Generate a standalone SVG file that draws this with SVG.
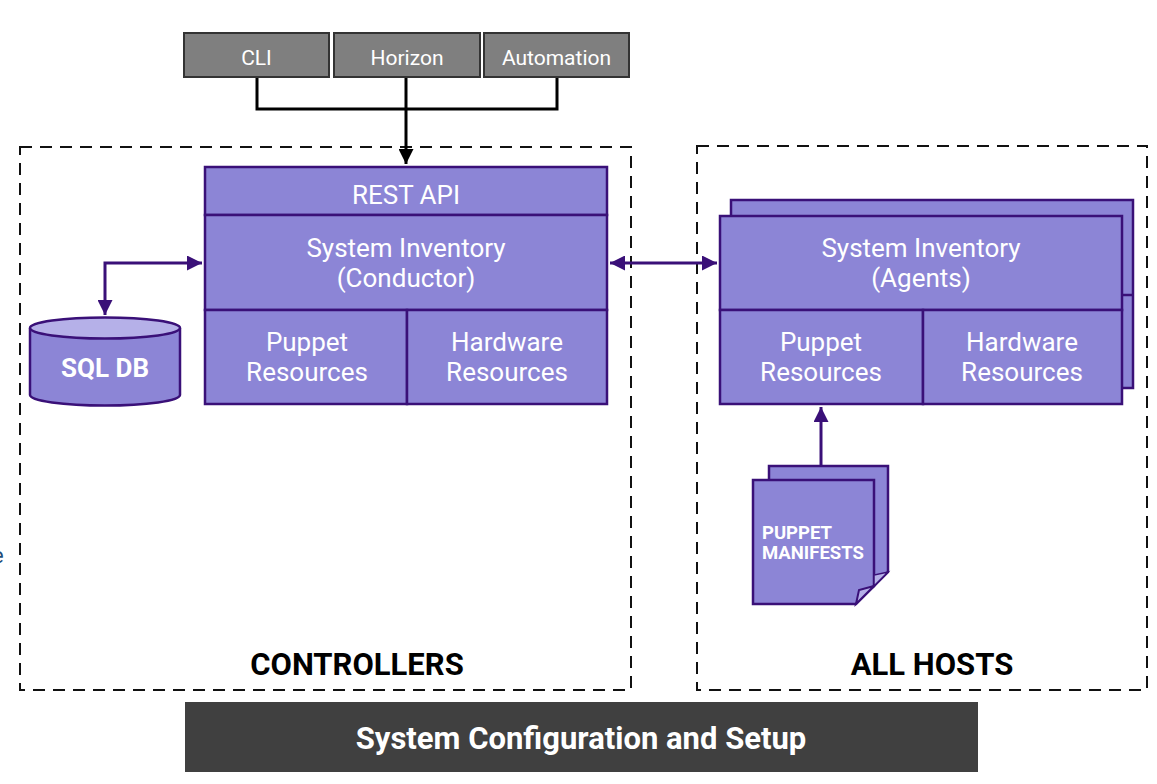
<svg xmlns="http://www.w3.org/2000/svg" width="1157" height="784" viewBox="0 0 1157 784">
<defs>
<style>
.src{fill:#7f7f7f;stroke:#333;stroke-width:2}
.srct{fill:#fff;font-family:Roboto,"Liberation Sans",sans-serif;font-size:21px;text-anchor:middle}
.blk{fill:#8c85d6;stroke:#3a1078;stroke-width:2.5}
.t{fill:#fff;font-family:Roboto,"Liberation Sans",sans-serif;font-size:26px;text-anchor:middle}
.dash{fill:none;stroke:#111;stroke-width:2;stroke-dasharray:12 8}
.lbl{fill:#000;font-family:Roboto,"Liberation Sans",sans-serif;font-size:31px;font-weight:bold;text-anchor:middle}
.blkline{fill:none;stroke:#000;stroke-width:3}
.pline{fill:none;stroke:#3a1078;stroke-width:3}
</style>
<marker id="ab" viewBox="0 0 10 10" refX="10" refY="5" markerWidth="5" markerHeight="5" orient="auto-start-reverse" markerUnits="strokeWidth"><path d="M0,0 L10,5 L0,10 z" fill="#000"/></marker>
<marker id="ap" viewBox="0 0 10 10" refX="10" refY="5" markerWidth="5" markerHeight="5" orient="auto-start-reverse" markerUnits="strokeWidth"><path d="M0,0 L10,5 L0,10 z" fill="#3a1078"/></marker>
</defs>
<rect width="1157" height="784" fill="#fff"/>
<text x="-8" y="563" font-family="Roboto,'Liberation Sans',sans-serif" font-size="22" fill="#1f4e79">e</text>

<g id="controllers">
<rect class="dash" x="20" y="147" width="611" height="543"/>
<text class="lbl" x="357" y="675">CONTROLLERS</text>
</g>
<g id="allhosts">
<rect class="dash" x="697" y="146" width="450" height="544"/>
<text class="lbl" x="932" y="675">ALL HOSTS</text>
</g>

<g id="connectors">
<path class="blkline" d="M257,77 V109 H557 V77"/>
<path class="blkline" d="M406,77 V164" marker-end="url(#ab)"/>
<path class="pline" d="M105,315 V263 H202" marker-start="url(#ap)" marker-end="url(#ap)"/>
<path class="pline" d="M610,263 H717" marker-start="url(#ap)" marker-end="url(#ap)"/>
<path class="pline" d="M821,466 V407" marker-end="url(#ap)"/>
</g>

<g id="cli"><rect class="src" x="184" y="33" width="145" height="44"/><text class="srct" x="256.5" y="65">CLI</text></g>
<g id="horizon"><rect class="src" x="334" y="33" width="146" height="44"/><text class="srct" x="407" y="65">Horizon</text></g>
<g id="automation"><rect class="src" x="484" y="33" width="145" height="44"/><text class="srct" x="556.5" y="65">Automation</text></g>

<g id="conductor">
<rect class="blk" x="205" y="167" width="402" height="48"/>
<text class="t" x="406" y="204">REST API</text>
<rect class="blk" x="205" y="215" width="402" height="95"/>
<text class="t" x="406" y="257">System Inventory</text>
<text class="t" x="406" y="287">(Conductor)</text>
<rect class="blk" x="205" y="310" width="202" height="94"/>
<rect class="blk" x="407" y="310" width="200" height="94"/>
<text class="t" x="307" y="351">Puppet</text>
<text class="t" x="307" y="381">Resources</text>
<text class="t" x="507" y="351">Hardware</text>
<text class="t" x="507" y="381">Resources</text>
</g>

<g id="sqldb">
<path d="M30,328 V395 A75,10.5 0 0 0 180,395 V328" fill="#8c85d6" stroke="#3a1078" stroke-width="2.5"/>
<ellipse cx="105" cy="328" rx="75" ry="10.5" fill="#b5b0e8" stroke="#3a1078" stroke-width="2.5"/>
<text class="t" x="105" y="377" font-weight="bold">SQL DB</text>
</g>

<g id="agents">
<rect class="blk" x="731" y="200" width="402" height="188"/>
<line x1="1122" y1="295" x2="1133" y2="295" stroke="#3a1078" stroke-width="2.5"/>
<rect class="blk" x="720" y="216" width="402" height="94"/>
<text class="t" x="921" y="257">System Inventory</text>
<text class="t" x="921" y="287">(Agents)</text>
<rect class="blk" x="720" y="310" width="203" height="94"/>
<rect class="blk" x="923" y="310" width="199" height="94"/>
<text class="t" x="821" y="351">Puppet</text>
<text class="t" x="821" y="381">Resources</text>
<text class="t" x="1022" y="351">Hardware</text>
<text class="t" x="1022" y="381">Resources</text>
</g>

<g id="manifests">
<path d="M769,466 H888 V572 L873,587 H769 Z" fill="#8c85d6" stroke="#3a1078" stroke-width="2.5"/>
<path d="M753,480 H874 V586 L856,604 H753 Z" fill="#8c85d6" stroke="#3a1078" stroke-width="2.5"/>
<path d="M874,586 L856,604 L859,590 Z" fill="#b5b0e8" stroke="#3a1078" stroke-width="2"/>
<path d="M888,572 L874,586 L874,575 Z" fill="#b5b0e8" stroke="#3a1078" stroke-width="1.5"/>
<text x="762" y="539" fill="#fff" font-family="Roboto,'Liberation Sans',sans-serif" font-size="18.5" font-weight="bold">PUPPET</text>
<text x="762" y="559" fill="#fff" font-family="Roboto,'Liberation Sans',sans-serif" font-size="18.5" font-weight="bold">MANIFESTS</text>
</g>

<g id="footer">
<rect x="185" y="702" width="793" height="70" fill="#404040"/>
<text x="581" y="749" fill="#fff" font-family="Roboto,'Liberation Sans',sans-serif" font-size="31" font-weight="bold" text-anchor="middle">System Configuration and Setup</text>
</g>
</svg>
